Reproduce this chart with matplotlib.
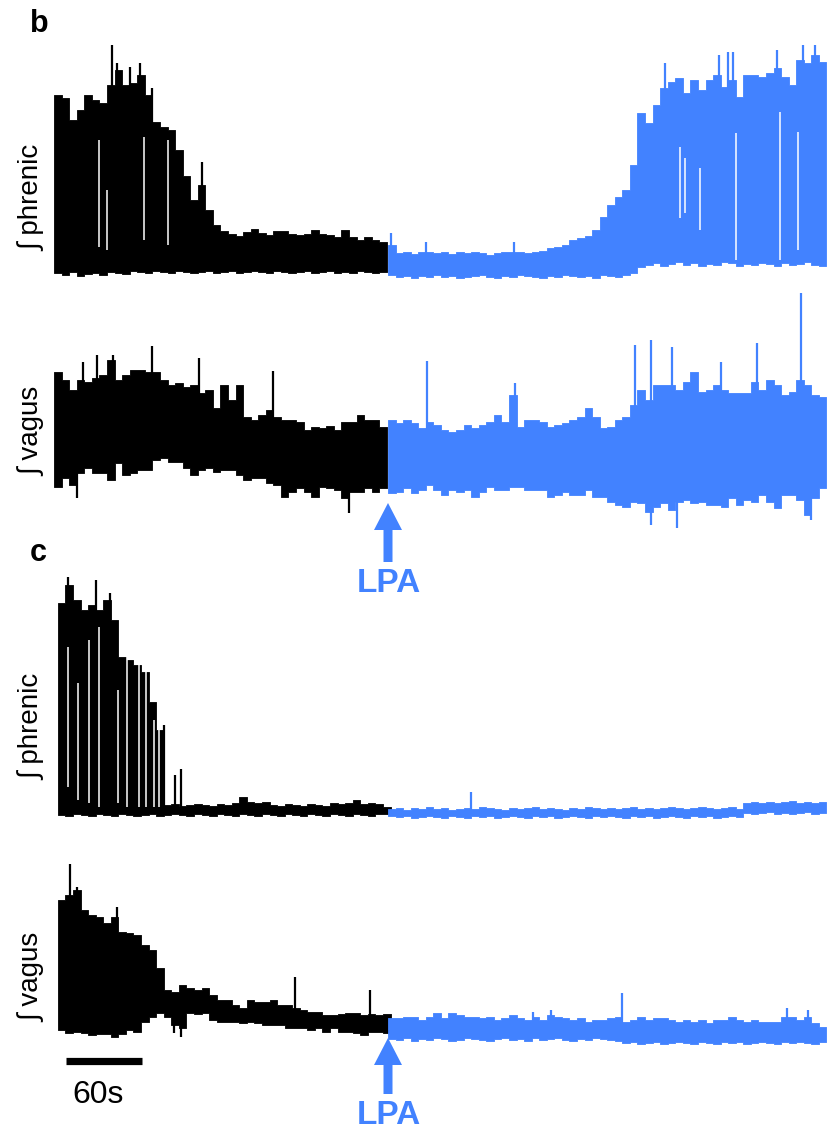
import numpy as np
import matplotlib.pyplot as plt
from matplotlib.patches import FancyArrow

plt.rcParams['font.family'] = ['Liberation Sans', 'DejaVu Sans']

W, H = 827, 1137
BLUE = '#4282ff'
dt = 6.0            # seconds per envelope bin
px_per_s = 1.26     # 60 s scale bar ~ 75.6 px
t_left = -388 / px_per_s
t_right = (W - 388) / px_per_s

# ---- panel b, integrated phrenic (a.u.), before / after LPA ----
phr_b_t0_pre = -265
phr_b_up_pre = [190, 187, 165, 175, 190, 185, 182, 200, 215, 200, 202, 210, 190, 163, 158,
                155, 135, 109, 85, 100, 75, 60, 54, 51, 49, 53, 56, 52, 50, 54,
                54, 51, 50, 51, 55, 51, 50, 48, 55, 48, 45, 48, 45, 43]
phr_b_lo_pre = [12, 10, 13, 9, 11, 12, 10, 13, 12, 11, 14, 13, 12, 14, 13,
                12, 14, 13, 12, 13, 14, 12, 13, 14, 12, 13, 14, 13, 12, 14,
                13, 12, 13, 14, 12, 13, 14, 12, 13, 12, 14, 13, 12, 13]
phr_b_up_post = [40, 32, 33, 31, 33, 33, 32, 33, 31, 33, 32, 33, 32, 30, 32, 33, 33, 33, 32, 33,
                 34, 37, 38, 40, 45, 47, 49, 55, 68, 80, 88, 95, 120, 172, 162, 180, 197, 203, 207, 192,
                 205, 195, 205, 210, 198, 205, 188, 210, 210, 208, 212, 217, 208, 200, 225, 222, 230, 223]
phr_b_lo_post = [10, 8, 9, 7, 9, 8, 10, 8, 9, 7, 8, 9, 10, 8, 7, 9, 8, 10, 9, 8,
                 7, 9, 8, 10, 9, 8, 9, 7, 10, 9, 8, 10, 12, 18, 20, 22, 19, 21, 23, 20,
                 22, 19, 21, 20, 23, 22, 19, 21, 20, 22, 21, 19, 22, 20, 21, 23, 20, 19]
phr_b_spk_t = [-219, -215, -205, -197, -187, -148, 2, 30, 100, 220, 263, 270, 274, 309, 329, 339]
phr_b_spk_a = [240, 222, 218, 222, 197, 123, 52, 43, 43, 222, 230, 233, 233, 235, 240, 240]
phr_b_gap_t = [-229, -223, -194, -175, 232, 236, 248, 276, 311, 325]
phr_b_gap_hi = [145, 95, 148, 145, 138, 127, 117, 152, 173, 153]
phr_b_gap_lo = [38, 35, 45, 40, 67, 72, 55, 25, 25, 35]

# ---- panel b, integrated vagus ----
vag_b_t0_pre = -265
vag_b_up_pre = [158, 150, 140, 150, 148, 152, 155, 170, 150, 155, 160, 160, 158, 158, 150,
                145, 147, 143, 145, 137, 140, 122, 145, 130, 145, 113, 110, 115, 120, 113,
                110, 110, 108, 100, 103, 102, 104, 100, 108, 108, 115, 110, 110, 103]
vag_b_lo_pre = [43, 52, 45, 57, 62, 57, 57, 50, 67, 55, 57, 60, 60, 70, 72,
                68, 68, 62, 55, 60, 62, 58, 60, 60, 55, 50, 52, 52, 47, 45,
                33, 38, 42, 38, 33, 43, 42, 40, 32, 38, 38, 42, 38, 42]
vag_b_up_post = [110, 107, 110, 107, 102, 108, 105, 100, 98, 100, 105, 102, 105, 108, 115, 108, 135, 103, 110, 110,
                 108, 103, 105, 107, 110, 113, 122, 113, 102, 103, 110, 113, 125, 140, 130, 145, 145, 145, 140, 148,
                 158, 138, 140, 145, 140, 137, 137, 137, 148, 140, 150, 145, 135, 138, 150, 145, 135, 133]
vag_b_lo_post = [37, 38, 42, 37, 40, 45, 40, 35, 40, 38, 40, 33, 38, 43, 40, 40, 43, 43, 40, 40,
                 40, 33, 35, 38, 35, 35, 40, 33, 33, 28, 25, 23, 28, 27, 18, 23, 27, 20, 28, 30,
                 27, 28, 25, 25, 23, 32, 25, 30, 28, 35, 28, 22, 35, 35, 30, 15, 32, 42]
vag_b_spk_t = [-247, -242, -231, -218, -187, -150, -91, -31, 31, 101, 196, 209, 209, 225, 229, 264, 293, 328, 336]
vag_b_spk_a = [32, 168, 175, 175, 184, 172, 159, 17, 169, 147, 185, 190, 5, 183, 2, 168, 187, 237, 10]

# ---- panel c, integrated phrenic ----
phr_c_t0_pre = -262
phr_c_up_pre = [227, 245, 230, 220, 225, 220, 230, 210, 173, 170, 165, 158, 128, 100,
                25, 26, 24, 25, 26, 25, 24, 26, 25, 27, 33, 28, 27, 28, 25,
                24, 26, 25, 24, 26, 25, 24, 27, 26, 27, 30, 26, 27, 26, 23]
phr_c_lo_pre = [15, 14, 16, 15, 14, 16, 15, 14, 16, 15, 14,
                15, 16, 14, 15, 16, 15, 14, 16, 15, 14, 16,
                15, 14, 16, 15, 14, 16, 15, 14, 16, 15, 14,
                16, 15, 14, 16, 15, 14, 16, 15, 14, 16, 16]
phr_c_up_post = [21, 22, 20, 22, 21, 23, 21, 22, 20, 21, 22, 21, 23, 22, 21, 20, 22, 21, 22, 23,
                 21, 22, 21, 20, 22, 21, 23, 22, 21, 22, 21, 22, 23, 21, 22, 21, 22, 23, 22, 21,
                 22, 23, 22, 21, 22, 23, 21, 27, 28, 27, 28, 27, 28, 29, 27, 28, 27, 28]
phr_c_lo_post = [14, 13, 14, 12, 13, 14, 13, 12, 14, 13, 12, 14, 13, 14, 12, 13, 14, 13, 12, 14,
                 13, 14, 12, 13, 14, 13, 12, 14, 13, 14, 13, 12, 14, 13, 14, 12, 13, 14, 13, 12,
                 14, 13, 14, 12, 13, 14, 13, 17, 16, 17, 18, 16, 17, 16, 17, 18, 16, 17]
phr_c_spk_t = [-254, -232, -221, -178, -169, -164, 66]
phr_c_spk_a = [253, 250, 237, 105, 55, 61, 38]
phr_c_gap_t = [-254, -246, -237, -229, -214, -207, -198, -192, -186, -182]
phr_c_gap_hi = [183, 147, 190, 203, 140, 180, 177, 160, 110, 100]
phr_c_gap_lo = [43, 30, 27, 23, 27, 23, 23, 23, 23, 23]

# ---- panel c, integrated vagus ----
vag_c_t0_pre = -262
vag_c_up_pre = [150, 155, 160, 140, 135, 133, 127, 133, 118, 117, 115, 105, 100, 82, 60,
                58, 65, 62, 60, 62, 55, 50, 50, 45, 42, 50, 48, 48, 50, 45,
                45, 42, 40, 38, 38, 35, 35, 36, 37, 37, 35, 36, 35, 36]
vag_c_lo_pre = [20, 17, 18, 17, 15, 16, 16, 13, 16, 20, 18, 28, 33, 37, 33,
                25, 22, 37, 36, 37, 30, 28, 28, 28, 27, 28, 27, 25, 25, 25,
                22, 22, 22, 20, 22, 18, 22, 18, 18, 17, 15, 18, 18, 17]
vag_c_up_post = [32, 32, 33, 33, 30, 33, 37, 32, 37, 35, 33, 33, 32, 33, 30, 32, 35, 32, 30, 33,
                 30, 35, 33, 32, 30, 32, 28, 30, 30, 32, 33, 28, 30, 33, 30, 32, 32, 30, 28, 30,
                 28, 30, 27, 30, 30, 33, 30, 28, 30, 28, 28, 28, 33, 33, 30, 33, 27, 23]
vag_c_lo_post = [11, 10, 12, 9, 11, 10, 12, 11, 9, 10, 12, 11, 10, 9, 11, 12, 10, 11, 9, 12,
                 10, 11, 12, 10, 9, 11, 10, 12, 11, 10, 9, 7, 8, 6, 7, 8, 6, 7, 8, 7,
                 6, 8, 7, 6, 8, 7, 8, 6, 7, 8, 7, 6, 8, 7, 8, 7, 6, 8]
vag_c_spk_t = [-252, -247, -215, -170, -164, -74, -14, 115, 129, 186, 317, 333]
vag_c_spk_a = [186, 163, 143, 17, 13, 73, 60, 38, 40, 57, 42, 40]

scalebar_s = 60


def draw_segment(ax, t0, up, lo, color):
    # envelope of the dense trace, one step per bin
    up = np.asarray(up, float)
    lo = np.asarray(lo, float)
    edges = t0 + dt * np.arange(len(up) + 1)
    ax.fill_between(edges, np.append(lo, lo[-1]), np.append(up, up[-1]),
                    step='post', color=color, linewidth=0.6, edgecolor=color)


def draw_spikes(ax, spk_t, spk_a, segs):
    # spike drawn from the middle of the band up (or down) to its tip
    for t, a in zip(spk_t, spk_a):
        for t0, up, lo, color in segs:
            i = int((t - t0) // dt)
            if 0 <= i < len(up) and (t >= 0) == (t0 >= 0):
                mid = (up[i] + lo[i]) / 2
                ax.vlines(t, mid, a, color=color, lw=1.6)
                break


def trace_axes(y_top, y_bot, y_zero):
    ax = fig.add_axes([0, 1 - y_bot / H, 1, (y_bot - y_top) / H])
    ax.set_xlim(t_left, t_right)
    ax.set_ylim(y_zero - y_bot, y_zero - y_top)
    ax.axis('off')
    return ax


fig = plt.figure(figsize=(W / 100, H / 100), dpi=100)

panels = [
    (40, 285, 285, phr_b_t0_pre, phr_b_up_pre, phr_b_lo_pre, phr_b_up_post, phr_b_lo_post, phr_b_spk_t, phr_b_spk_a),
    (290, 530, 530, vag_b_t0_pre, vag_b_up_pre, vag_b_lo_pre, vag_b_up_post, vag_b_lo_post, vag_b_spk_t, vag_b_spk_a),
    (570, 830, 830, phr_c_t0_pre, phr_c_up_pre, phr_c_lo_pre, phr_c_up_post, phr_c_lo_post, phr_c_spk_t, phr_c_spk_a),
    (850, 1137, 1050, vag_c_t0_pre, vag_c_up_pre, vag_c_lo_pre, vag_c_up_post, vag_c_lo_post, vag_c_spk_t, vag_c_spk_a),
]
axes = []
for y_top, y_bot, y_zero, t0, up1, lo1, up2, lo2, st, sa in panels:
    ax = trace_axes(y_top, y_bot, y_zero)
    draw_segment(ax, t0, up1, lo1, 'black')
    draw_segment(ax, 0, up2, lo2, BLUE)
    draw_spikes(ax, st, sa, [(t0, up1, lo1, 'black'), (0, up2, lo2, BLUE)])
    axes.append(ax)

# white gaps between bursts
axes[0].vlines(phr_b_gap_t, phr_b_gap_lo, phr_b_gap_hi, color='white', lw=1.1)
axes[2].vlines(phr_c_gap_t, phr_c_gap_lo, phr_c_gap_hi, color='white', lw=1.1)

# scale bar (60 s)
sb_start = (66 - 388) / px_per_s
axes[3].plot([sb_start, sb_start + scalebar_s], [-10.5, -10.5], color='black',
             lw=5.2, solid_capstyle='butt')

# overlay in pixel coordinates for labels and arrows
ov = fig.add_axes([0, 0, 1, 1])
ov.set_xlim(0, W)
ov.set_ylim(H, 0)
ov.axis('off')

ov.text(30, 32, 'b', fontsize=22, fontweight='bold', ha='left', va='baseline')
ov.text(30, 561, 'c', fontsize=22, fontweight='bold', ha='left', va='baseline')

for yc, lab in [(198, '∫ phrenic'), (431, '∫ vagus'), (727, '∫ phrenic'), (977, '∫ vagus')]:
    ov.text(32, yc, lab, fontsize=20, rotation=90, ha='center', va='center')

ov.text(98, 1095, '60s', fontsize=23, ha='center', va='center')

for y_tail, y_tip, y_txt in [(562, 503, 583), (1094, 1038, 1116)]:
    ov.add_patch(FancyArrow(388, y_tail, 0, y_tip - y_tail, width=9, head_width=28,
                            head_length=27, length_includes_head=True,
                            color=BLUE, lw=0))
    ov.text(389, y_txt, 'LPA', fontsize=24, fontweight='bold', color=BLUE,
            ha='center', va='center')

fig.savefig('out.png', dpi=100)
